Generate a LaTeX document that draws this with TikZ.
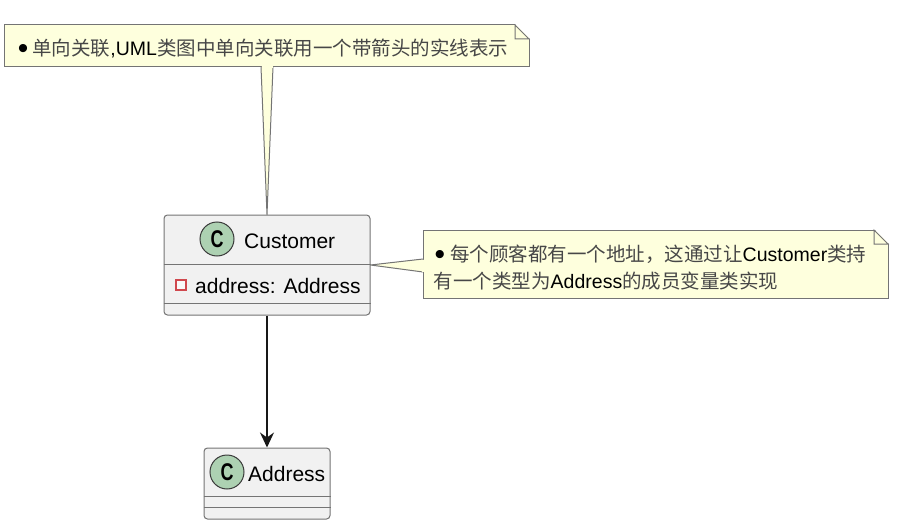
\documentclass[tikz,border=0pt]{standalone}
\usepackage{fontspec}
\setmainfont{Liberation Sans}
\newfontfamily\cjk{Noto Sans CJK SC}
\usetikzlibrary{arrows.meta}

\definecolor{notefill}{HTML}{FEFFDD}
\definecolor{classfill}{HTML}{F1F1F1}
\definecolor{spotfill}{HTML}{ADD1B2}
\definecolor{linedark}{HTML}{181818}
\definecolor{fieldred}{HTML}{D0484E}

\newcommand{\zh}[1]{{\cjk\color{black!72}#1}}
\newcommand{\bigdot}{\raisebox{-3pt}{\fontsize{30}{27.5}\selectfont\textbullet}}
\newcommand{\spotletter}{\scalebox{0.78}[1.05]{\textbf{C}}}

\begin{document}
\begin{tikzpicture}[x=1pt, y=-1pt,
    classbox/.style={draw=linedark!60, fill=classfill, rounded corners=3.5pt, line width=1pt, inner sep=0pt},
    notebox/.style={draw=linedark!60, fill=notefill, line width=1pt, inner sep=0pt, align=left, font=\fontsize{19.5}{27.5}\selectfont},
    spot/.style={circle, draw=linedark!85, fill=spotfill, line width=1pt, minimum size=34pt, inner sep=0pt, font=\fontsize{23}{23}\selectfont},
    member/.style={inner sep=0pt, anchor=base west, font=\fontsize{21}{21}\selectfont},
    sepline/.style={draw=linedark!60, line width=1pt},
    tail/.style={draw=linedark!60, fill=notefill, line width=1pt, line join=round}]
    \useasboundingbox (0, 0) rectangle (911, 527);

    %Nodes
    \node[classbox, minimum width=206pt, minimum height=100pt] at (267, 265) (customer) {};
    \node[classbox, minimum width=126pt, minimum height=71pt] at (267, 483.5) (address) {};
    \node[notebox, minimum width=525pt, minimum height=42pt] at (267, 46) (noteA) {\rule{0pt}{22pt}\bigdot\hspace{4pt}\zh{单向关联},UML\zh{类图中单向关联用一个带箭头的实线表示}\hspace{8pt}};
    \node[notebox, minimum width=465pt, minimum height=68pt] at (655.5, 264) (noteB) {\rule{0pt}{24pt}\hspace*{1pt}\bigdot\hspace{5pt}\zh{每个顾客都有一个地址，这通过让}Customer\zh{类持}\hspace*{11pt}\\\zh{有一个类型为}Address\zh{的成员变量类实现}};

    %Class contents
    \node[spot] at (217, 239) (spotC) {\spotletter};
    \node[spot] at (227, 472) (spotA) {\spotletter};
    \node[member] at (244, 248) (nameC) {Customer};
    \node[member] at (248, 481) (nameA) {Address};
    \node[member] at (195, 293) (field) {address: Address};
    \node[draw=fieldred, fill=white!60!classfill, line width=1.2pt, minimum size=10pt, inner sep=0pt] at (181, 285) (fieldmark) {};

    %Compartments
    \draw[sepline] (customer.west |- 0, 264) -- (customer.east |- 0, 264);
    \draw[sepline] (customer.west |- 0, 303) -- (customer.east |- 0, 303);
    \draw[sepline] (address.west |- 0, 496) -- (address.east |- 0, 496);
    \draw[sepline] (address.west |- 0, 507) -- (address.east |- 0, 507);

    %Note corners
    \fill[white] (515, 24) -- (530, 24) -- (530, 39) -- cycle;
    \draw[sepline, fill=notefill] (515, 25) -- (529, 39) -- (515, 39) -- cycle;
    \fill[white] (874, 229) -- (889, 229) -- (889, 244) -- cycle;
    \draw[sepline, fill=notefill] (874, 230) -- (888, 244) -- (874, 244) -- cycle;

    %Note tails
    \draw[tail] (261, 67) -- (customer.north) -- (273, 67);
    \fill[notefill] (261.5, 66) rectangle (272.5, 68);
    \draw[tail] (423, 259) -- (customer.east) -- (423, 272);
    \fill[notefill] (422, 259.5) rectangle (424, 271.5);

    %Lines
    \draw[-{Stealth[length=15pt, width=14pt, inset=5pt]}, line width=1.5pt, linedark] (customer) -- (address);
\end{tikzpicture}
\end{document}
